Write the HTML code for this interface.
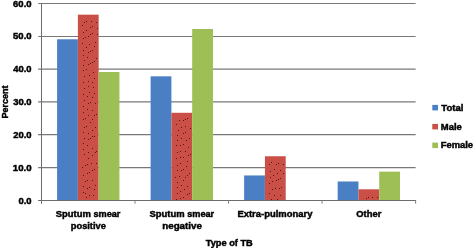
<!DOCTYPE html>
<html><head><meta charset="utf-8"><title>Type of TB</title><style>html,body{margin:0;padding:0;background:#fff}svg text{font-family:'Liberation Sans',sans-serif;font-weight:bold;font-size:9.5px;fill:#000;stroke:#000;stroke-width:0.45px}</style></head><body>
<svg width="473" height="248" viewBox="0 0 473 248" style="display:block">
<rect width="473" height="248" fill="#fff"/>
<line x1="38.10" y1="3.50" x2="415.60" y2="3.50" stroke="#787878" stroke-width="1.15"/>
<line x1="38.10" y1="36.45" x2="415.60" y2="36.45" stroke="#787878" stroke-width="1.15"/>
<line x1="38.10" y1="69.15" x2="415.60" y2="69.15" stroke="#787878" stroke-width="1.15"/>
<line x1="38.10" y1="101.90" x2="415.60" y2="101.90" stroke="#787878" stroke-width="1.15"/>
<line x1="38.10" y1="134.60" x2="415.60" y2="134.60" stroke="#787878" stroke-width="1.15"/>
<line x1="38.10" y1="167.65" x2="415.60" y2="167.65" stroke="#787878" stroke-width="1.15"/>
<rect x="57.09" y="39.27" width="20.783333333333335" height="161.23" fill="#4a80c3"/>
<rect x="77.87" y="14.66" width="20.783333333333335" height="185.84" fill="#c94f47"/>
<rect x="98.65" y="72.00" width="20.783333333333335" height="128.50" fill="#9dbf56"/>
<rect x="150.61" y="76.32" width="20.783333333333335" height="124.18" fill="#4a80c3"/>
<rect x="171.40" y="112.78" width="20.783333333333335" height="87.72" fill="#c94f47"/>
<rect x="192.18" y="29.01" width="20.783333333333335" height="171.49" fill="#9dbf56"/>
<rect x="244.14" y="175.45" width="20.783333333333335" height="25.05" fill="#4a80c3"/>
<rect x="264.92" y="156.25" width="20.783333333333335" height="44.25" fill="#c94f47"/>
<rect x="337.66" y="181.48" width="20.783333333333335" height="19.02" fill="#4a80c3"/>
<rect x="358.45" y="189.29" width="20.783333333333335" height="11.21" fill="#c94f47"/>
<rect x="379.23" y="171.63" width="20.783333333333335" height="28.86" fill="#9dbf56"/>
<g fill="#3a0808" fill-opacity="0.8"><rect x="86" y="21" width="1" height="1"/><rect x="91" y="21" width="1" height="1"/><rect x="84" y="22" width="1" height="1"/><rect x="96" y="22" width="1" height="1"/><rect x="82" y="25" width="1" height="1"/><rect x="92" y="26" width="1" height="1"/><rect x="90" y="27" width="1" height="1"/><rect x="97" y="28" width="1" height="1"/><rect x="86" y="30" width="1" height="1"/><rect x="83" y="32" width="1" height="1"/><rect x="92" y="33" width="1" height="1"/><rect x="90" y="34" width="1" height="1"/><rect x="97" y="34" width="1" height="1"/><rect x="88" y="36" width="1" height="1"/><rect x="85" y="37" width="1" height="1"/><rect x="83" y="38" width="1" height="1"/><rect x="82" y="43" width="1" height="1"/><rect x="95" y="42" width="1" height="1"/><rect x="89" y="44" width="1" height="1"/><rect x="94" y="46" width="1" height="1"/><rect x="86" y="47" width="1" height="1"/><rect x="83" y="50" width="1" height="1"/><rect x="92" y="50" width="1" height="1"/><rect x="90" y="51" width="1" height="1"/><rect x="88" y="52" width="1" height="1"/><rect x="83" y="55" width="1" height="1"/><rect x="87" y="57" width="1" height="1"/><rect x="96" y="58" width="1" height="1"/><rect x="84" y="60" width="1" height="1"/><rect x="94" y="61" width="1" height="1"/><rect x="92" y="62" width="1" height="1"/><rect x="90" y="63" width="1" height="1"/><rect x="88" y="64" width="1" height="1"/><rect x="83" y="65" width="1" height="1"/><rect x="86" y="69" width="1" height="1"/><rect x="83" y="70" width="1" height="1"/><rect x="93" y="72" width="1" height="1"/><rect x="89" y="75" width="1" height="1"/><rect x="84" y="76" width="1" height="1"/><rect x="94" y="78" width="1" height="1"/><rect x="88" y="81" width="1" height="1"/><rect x="83" y="82" width="1" height="1"/><rect x="92" y="82" width="1" height="1"/><rect x="88" y="86" width="1" height="1"/><rect x="93" y="87" width="1" height="1"/><rect x="84" y="88" width="1" height="1"/><rect x="89" y="92" width="1" height="1"/><rect x="94" y="93" width="1" height="1"/><rect x="83" y="94" width="1" height="1"/><rect x="87" y="96" width="1" height="1"/><rect x="92" y="97" width="1" height="1"/><rect x="84" y="100" width="1" height="1"/><rect x="90" y="102" width="1" height="1"/><rect x="88" y="103" width="1" height="1"/><rect x="95" y="103" width="1" height="1"/><rect x="83" y="106" width="1" height="1"/><rect x="87" y="109" width="1" height="1"/><rect x="92" y="110" width="1" height="1"/><rect x="83" y="112" width="1" height="1"/><rect x="96" y="114" width="1" height="1"/><rect x="88" y="115" width="1" height="1"/><rect x="94" y="115" width="1" height="1"/><rect x="85" y="118" width="1" height="1"/><rect x="83" y="119" width="1" height="1"/><rect x="92" y="119" width="1" height="1"/><rect x="90" y="122" width="1" height="1"/><rect x="86" y="126" width="1" height="1"/><rect x="84" y="127" width="1" height="1"/><rect x="95" y="127" width="1" height="1"/><rect x="92" y="130" width="1" height="1"/><rect x="83" y="132" width="1" height="1"/><rect x="88" y="133" width="1" height="1"/><rect x="94" y="136" width="1" height="1"/><rect x="92" y="136" width="1" height="1"/><rect x="90" y="138" width="1" height="1"/><rect x="88" y="139" width="1" height="1"/><rect x="84" y="138" width="1" height="1"/><rect x="83" y="143" width="1" height="1"/><rect x="87" y="145" width="1" height="1"/><rect x="92" y="148" width="1" height="1"/><rect x="83" y="149" width="1" height="1"/><rect x="88" y="152" width="1" height="1"/><rect x="95" y="152" width="1" height="1"/><rect x="96" y="151" width="1" height="1"/><rect x="84" y="154" width="1" height="1"/><rect x="92" y="155" width="1" height="1"/><rect x="88" y="158" width="1" height="1"/><rect x="96" y="163" width="1" height="1"/><rect x="91" y="163" width="1" height="1"/><rect x="87" y="164" width="1" height="1"/><rect x="85" y="165" width="1" height="1"/><rect x="82" y="167" width="1" height="1"/><rect x="94" y="169" width="1" height="1"/><rect x="92" y="170" width="1" height="1"/><rect x="89" y="172" width="1" height="1"/><rect x="87" y="173" width="1" height="1"/><rect x="83" y="175" width="1" height="1"/><rect x="92" y="180" width="1" height="1"/><rect x="87" y="180" width="1" height="1"/><rect x="85" y="181" width="1" height="1"/><rect x="95" y="185" width="1" height="1"/><rect x="83" y="186" width="1" height="1"/><rect x="89" y="187" width="1" height="1"/><rect x="87" y="188" width="1" height="1"/><rect x="94" y="189" width="1" height="1"/><rect x="83" y="192" width="1" height="1"/><rect x="85" y="193" width="1" height="1"/><rect x="89" y="195" width="1" height="1"/><rect x="93" y="195" width="1" height="1"/><rect x="86" y="197" width="1" height="1"/><rect x="187" y="118" width="1" height="1"/><rect x="185" y="119" width="1" height="1"/><rect x="183" y="120" width="1" height="1"/><rect x="179" y="120" width="1" height="1"/><rect x="176" y="124" width="1" height="1"/><rect x="185" y="126" width="1" height="1"/><rect x="181" y="127" width="1" height="1"/><rect x="190" y="128" width="1" height="1"/><rect x="178" y="130" width="1" height="1"/><rect x="185" y="132" width="1" height="1"/><rect x="183" y="133" width="1" height="1"/><rect x="177" y="135" width="1" height="1"/><rect x="181" y="138" width="1" height="1"/><rect x="189" y="138" width="1" height="1"/><rect x="177" y="140" width="1" height="1"/><rect x="186" y="140" width="1" height="1"/><rect x="183" y="144" width="1" height="1"/><rect x="176" y="145" width="1" height="1"/><rect x="180" y="145" width="1" height="1"/><rect x="188" y="147" width="1" height="1"/><rect x="180" y="151" width="1" height="1"/><rect x="185" y="151" width="1" height="1"/><rect x="177" y="152" width="1" height="1"/><rect x="190" y="154" width="1" height="1"/><rect x="188" y="155" width="1" height="1"/><rect x="183" y="157" width="1" height="1"/><rect x="180" y="157" width="1" height="1"/><rect x="176" y="158" width="1" height="1"/><rect x="187" y="161" width="1" height="1"/><rect x="180" y="163" width="1" height="1"/><rect x="177" y="165" width="1" height="1"/><rect x="186" y="166" width="1" height="1"/><rect x="183" y="169" width="1" height="1"/><rect x="181" y="170" width="1" height="1"/><rect x="177" y="170" width="1" height="1"/><rect x="189" y="173" width="1" height="1"/><rect x="187" y="175" width="1" height="1"/><rect x="179" y="176" width="1" height="1"/><rect x="185" y="177" width="1" height="1"/><rect x="175" y="177" width="1" height="1"/><rect x="183" y="180" width="1" height="1"/><rect x="177" y="182" width="1" height="1"/><rect x="181" y="185" width="1" height="1"/><rect x="187" y="186" width="1" height="1"/><rect x="177" y="187" width="1" height="1"/><rect x="184" y="189" width="1" height="1"/><rect x="180" y="191" width="1" height="1"/><rect x="177" y="193" width="1" height="1"/><rect x="189" y="193" width="1" height="1"/><rect x="187" y="194" width="1" height="1"/><rect x="183" y="197" width="1" height="1"/><rect x="180" y="198" width="1" height="1"/><rect x="176" y="199" width="1" height="1"/><rect x="271" y="162" width="1" height="1"/><rect x="278" y="163" width="1" height="1"/><rect x="269" y="164" width="1" height="1"/><rect x="276" y="164" width="1" height="1"/><rect x="283" y="164" width="1" height="1"/><rect x="274" y="169" width="1" height="1"/><rect x="280" y="170" width="1" height="1"/><rect x="270" y="171" width="1" height="1"/><rect x="277" y="173" width="1" height="1"/><rect x="283" y="173" width="1" height="1"/><rect x="273" y="175" width="1" height="1"/><rect x="270" y="177" width="1" height="1"/><rect x="280" y="178" width="1" height="1"/><rect x="278" y="179" width="1" height="1"/><rect x="276" y="180" width="1" height="1"/><rect x="272" y="181" width="1" height="1"/><rect x="269" y="183" width="1" height="1"/><rect x="281" y="187" width="1" height="1"/><rect x="279" y="188" width="1" height="1"/><rect x="275" y="188" width="1" height="1"/><rect x="272" y="189" width="1" height="1"/><rect x="269" y="193" width="1" height="1"/><rect x="274" y="195" width="1" height="1"/><rect x="280" y="195" width="1" height="1"/><rect x="271" y="199" width="1" height="1"/><rect x="277" y="199" width="1" height="1"/><rect x="366" y="198" width="1" height="1"/><rect x="368" y="197" width="1" height="1"/><rect x="372" y="197" width="1" height="1"/><rect x="377" y="197" width="1" height="1"/></g>
<line x1="38.10" y1="200.50" x2="416.10" y2="200.50" stroke="#6c6c6c" stroke-width="1"/>
<line x1="41.50" y1="3.50" x2="41.50" y2="203.90" stroke="#6c6c6c" stroke-width="1"/>
<line x1="135.03" y1="200.50" x2="135.03" y2="203.70" stroke="#808080" stroke-width="1"/>
<line x1="228.55" y1="200.50" x2="228.55" y2="203.70" stroke="#808080" stroke-width="1"/>
<line x1="322.08" y1="200.50" x2="322.08" y2="203.70" stroke="#808080" stroke-width="1"/>
<line x1="415.60" y1="200.50" x2="415.60" y2="203.70" stroke="#808080" stroke-width="1"/>
<text id="y0" x="13.05" y="6.50" style="font-size:9.6px" textLength="18.54" lengthAdjust="spacingAndGlyphs">60.0</text>
<text id="y1" x="13.05" y="39.45" style="font-size:9.6px" textLength="18.54" lengthAdjust="spacingAndGlyphs">50.0</text>
<text id="y2" x="13.30" y="72.15" style="font-size:9.6px" textLength="18.29" lengthAdjust="spacingAndGlyphs">40.0</text>
<text id="y3" x="13.17" y="104.90" style="font-size:9.6px" textLength="18.41" lengthAdjust="spacingAndGlyphs">30.0</text>
<text id="y4" x="13.17" y="137.60" style="font-size:9.6px" textLength="18.41" lengthAdjust="spacingAndGlyphs">20.0</text>
<text id="y5" x="12.80" y="170.65" style="font-size:9.6px" textLength="18.79" lengthAdjust="spacingAndGlyphs">10.0</text>
<text id="y6" x="18.40" y="203.50" style="font-size:9.6px" textLength="13.11" lengthAdjust="spacingAndGlyphs">0.0</text>
<text id="c1a" x="55.70" y="217.00" textLength="35.08" lengthAdjust="spacingAndGlyphs">Sputum</text>
<text id="c1c" x="93.38" y="217.00" textLength="27.05" lengthAdjust="spacingAndGlyphs">smear</text>
<text id="c1b" x="70.80" y="229.25" textLength="35.07" lengthAdjust="spacingAndGlyphs">positive</text>
<text id="c2a" x="149.52" y="217.00" textLength="35.08" lengthAdjust="spacingAndGlyphs">Sputum</text>
<text id="c2c" x="187.20" y="217.00" textLength="27.00" lengthAdjust="spacingAndGlyphs">smear</text>
<text id="c2b" x="162.27" y="229.25" textLength="39.61" lengthAdjust="spacingAndGlyphs">negative</text>
<text id="c3" x="237.45" y="216.90" textLength="74.97" lengthAdjust="spacingAndGlyphs">Extra-pulmonary</text>
<text id="c4" x="356.22" y="216.90" textLength="25.09" lengthAdjust="spacingAndGlyphs">Other</text>
<text id="xt" x="205.77" y="245.70" textLength="46.96" lengthAdjust="spacingAndGlyphs">Type of TB</text>
<text id="l1" x="441.30" y="110.70" textLength="22.15" lengthAdjust="spacingAndGlyphs">Total</text>
<text id="l2" x="440.80" y="129.70" textLength="21.00" lengthAdjust="spacingAndGlyphs">Male</text>
<text id="l3" x="440.80" y="148.40" textLength="32.26" lengthAdjust="spacingAndGlyphs">Female</text>
<text id="yt" transform="translate(7.60,118.38) rotate(-90)" textLength="32.95" lengthAdjust="spacingAndGlyphs">Percent</text>
<rect x="432.3" y="104.90" width="5.7" height="5.5" fill="#4a80c3"/>
<rect x="432.3" y="123.90" width="5.7" height="5.5" fill="#c94f47"/>
<rect x="432.3" y="142.60" width="5.7" height="5.5" fill="#9dbf56"/>
</svg>
</body></html>
